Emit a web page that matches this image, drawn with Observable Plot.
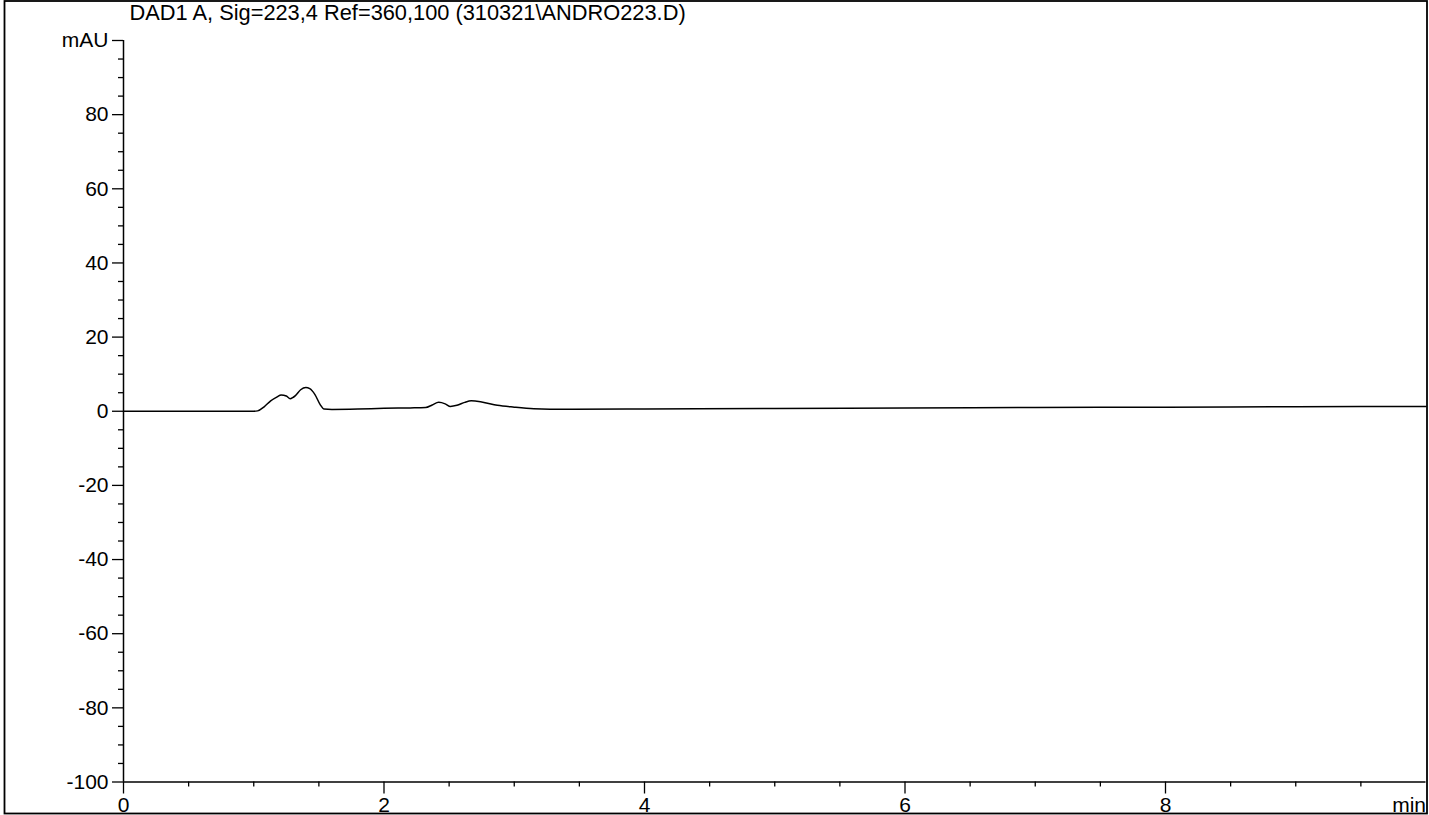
<!DOCTYPE html>
<html><head><meta charset="utf-8">
<script src="https://cdn.jsdelivr.net/npm/d3@7"></script>
<script src="https://cdn.jsdelivr.net/npm/@observablehq/plot@0.6"></script>
<style>html,body{margin:0;padding:0;background:#fff;} svg{display:block;}</style>
</head><body><div id="chart"></div>
<script>
const titleText = "DAD1 A, Sig=223,4 Ref=360,100 (310321\\ANDRO223.D)";
const yUnit = "mAU";
const xUnit = "min";

// retention time (min) and detector signal (mAU)
const timeMin = [0, 0.5, 1.0, 1.03, 1.08, 1.13, 1.18, 1.21, 1.25, 1.28, 1.32, 1.36, 1.40, 1.43, 1.47, 1.51, 1.54, 1.6, 1.8, 2.0, 2.2, 2.32, 2.37, 2.42, 2.47, 2.51, 2.56, 2.62, 2.67, 2.75, 2.87, 3.0, 3.15, 3.4, 4, 5, 6, 7, 8, 9, 10];
const signalMAU = [0, 0, 0, 0.1, 1.2, 2.8, 3.9, 4.4, 4.1, 3.4, 4.2, 5.8, 6.4, 6.1, 4.5, 1.8, 0.6, 0.5, 0.6, 0.8, 0.9, 1.0, 1.7, 2.4, 2.0, 1.3, 1.6, 2.4, 2.8, 2.5, 1.6, 1.1, 0.7, 0.55, 0.6, 0.75, 0.9, 1.0, 1.1, 1.2, 1.3];

const xMajorTicks = [0, 2, 4, 6, 8];
const xMinorTicks = [0.5, 1, 1.5, 2.5, 3, 3.5, 4.5, 5, 5.5, 6.5, 7, 7.5, 8.5, 9, 9.5];
const yMajorTicks = [-100, -80, -60, -40, -20, 0, 20, 40, 60, 80, 100];
const yMinorTicks = [-95, -90, -85, -75, -70, -65, -55, -50, -45, -35, -30, -25, -15, -10, -5, 5, 10, 15, 25, 30, 35, 45, 50, 55, 65, 70, 75, 85, 90, 95];

const trace = timeMin.map((t, i) => ({t, v: signalMAU[i]}));

const font = "'Liberation Sans', Arial, sans-serif";

const plot = Plot.plot({
  width: 1429,
  height: 815,
  marginLeft: 123,
  marginRight: 3.5,
  marginTop: 40,
  marginBottom: 33.5,
  style: {fontFamily: font, fontSize: "21px", color: "#000", background: "#fff"},
  x: {domain: [0, 10], label: null},
  y: {domain: [-100, 100], label: null},
  marks: [
    Plot.axisY(yMinorTicks, {tickSize: 5, tickFormat: () => "", strokeWidth: 1.3, label: null}),
    Plot.axisY(yMajorTicks, {tickSize: 11, tickPadding: 4, strokeWidth: 1.3, fontSize: 21, label: null,
      tickFormat: d => d === 100 ? yUnit : String(d)}),
    Plot.axisX(xMinorTicks, {tickSize: 5, tickFormat: () => "", strokeWidth: 1.3, label: null}),
    Plot.axisX(xMajorTicks, {tickSize: 12, tickPadding: 3, strokeWidth: 1.3, fontSize: 21, label: null,
      tickFormat: d => String(d)}),
    Plot.ruleX([0], {strokeWidth: 1.5}),
    Plot.ruleY([-100], {strokeWidth: 1.5}),
    Plot.line(trace, {x: "t", y: "v", curve: "monotone-x", stroke: "#000", strokeWidth: 1.5}),
    Plot.text([xUnit], {frameAnchor: "bottom-right", textAnchor: "end", lineAnchor: "top", dy: 15, dx: 0, fontSize: 21}),
    Plot.text([titleText], {frameAnchor: "top-left", textAnchor: "start", lineAnchor: "bottom", dx: 6, dy: -21, fontSize: 21.8})
  ]
});

const svg = d3.select(plot);
svg.append("rect")
  .attr("x", 4.5).attr("y", 1).attr("width", 1422.5).attr("height", 812.5)
  .attr("fill", "none").attr("stroke", "#000").attr("stroke-width", 1.8);

document.getElementById("chart").appendChild(plot);
</script>
</body></html>
